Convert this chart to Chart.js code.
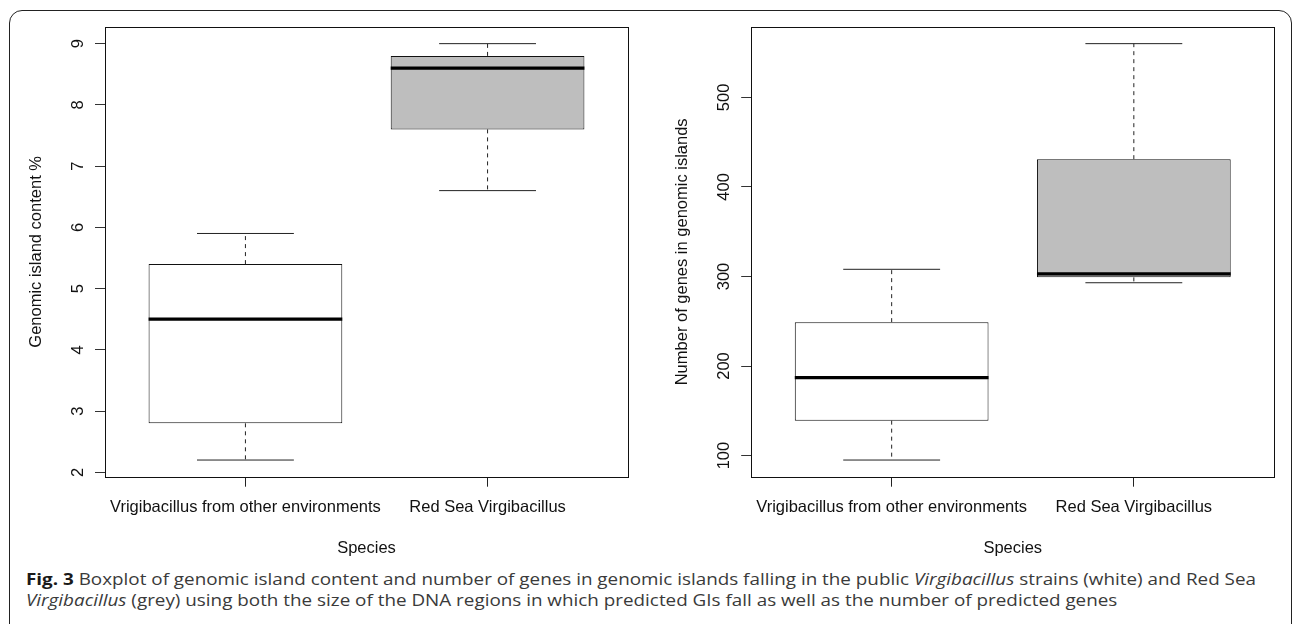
<!DOCTYPE html>
<html><head><meta charset="utf-8">
<script src="https://cdn.jsdelivr.net/npm/chart.js@4.4.1/dist/chart.umd.min.js"></script>
<style>
html,body{margin:0;padding:0;background:#fff;width:1293px;height:624px;overflow:hidden;position:relative;}
#frame{position:absolute;left:9px;top:10px;width:1283px;height:700px;border:1.5px solid #222;border-radius:13px;box-sizing:border-box;}
.cv{position:absolute;top:0;}
#c1wrap{left:0;width:646px;height:560px;}
#c2wrap{left:646px;width:647px;height:560px;}
.cap{position:absolute;left:26px;font-family:'Open Sans';font-size:16.5px;line-height:16.5px;color:#3a3a3a;white-space:nowrap;transform-origin:0 0;}
.cap b{color:#1a1a1a;}
</style></head>
<body>
<div id="frame"></div>
<div class="cv" id="c1wrap"><canvas id="c1" width="646" height="560"></canvas></div>
<div class="cv" id="c2wrap"><canvas id="c2" width="647" height="560"></canvas></div>
<div class="cap" id="cap1" style="top:570.8px"><b>Fig. 3</b> Boxplot of genomic island content and number of genes in genomic islands falling in the public <i>Virgibacillus</i> strains (white) and Red Sea</div>
<div class="cap" id="cap2" style="top:592.3px"><i>Virgibacillus</i> (grey) using both the size of the DNA regions in which predicted GIs fall as well as the number of predicted genes</div>
<script>
// ---- data ----
const categories = ['Vrigibacillus from other environments', 'Red Sea Virgibacillus'];
const boxFills = ['#ffffff', '#bebebe'];

// Genomic island content %
const giLow    = [2.2, 6.6];
const giQ1     = [2.8, 7.6];
const giMedian = [4.5, 8.6];
const giQ3     = [5.4, 8.8];
const giHigh   = [5.9, 9.0];
const giTicks  = [2, 3, 4, 5, 6, 7, 8, 9];

// Number of genes in genomic islands
const geneLow    = [95, 293];
const geneQ1     = [139, 299];
const geneMedian = [187, 303];
const geneQ3     = [249, 431];
const geneHigh   = [308, 560];
const geneTicks  = [100, 200, 300, 400, 500];

const FONT = "'Liberation Sans', Arial, Helvetica, sans-serif";
const FSIZE = 16.5;
const INK = '#111';

function segs(pairsFn) {
  const out = [];
  categories.forEach((c, i) => {
    pairsFn(i).forEach(p => out.push(p));
    out.push({x: i + 1.5, y: null});
  });
  return out;
}

const framePlugin = {
  id: 'frame',
  afterDatasetsDraw(chart) {
    const {ctx, chartArea: a} = chart;
    ctx.save();
    ctx.strokeStyle = '#111';
    ctx.lineWidth = 1;
    ctx.strokeRect(Math.round(a.left) + 0.5, Math.round(a.top) + 0.5, Math.round(a.right - a.left), Math.round(a.bottom - a.top));
    ctx.restore();
  }
};

const yLabelPlugin = {
  id: 'ylabels',
  afterDraw(chart) {
    const s = chart.scales.y;
    const ctx = chart.ctx;
    ctx.save();
    ctx.fillStyle = INK;
    ctx.font = FSIZE + 'px ' + FONT;
    ctx.textAlign = 'center';
    ctx.textBaseline = 'middle';
    s.ticks.forEach(t => {
      const y = s.getPixelForValue(t.value);
      ctx.save();
      ctx.translate(s.right - 26.5, y);
      ctx.rotate(-Math.PI / 2);
      ctx.fillText(String(t.value), 0, 0);
      ctx.restore();
    });
    ctx.restore();
  }
};

function makeBoxChart(canvasId, low, q1, med, q3, high, ticks, yTitle, yAxisWidth, padRight, titlePad) {
  const lo = Math.min(...low), hi = Math.max(...high);
  const ext = (hi - lo) * 0.04;
  const n = categories.length;
  const xExt = n * 0.04;
  const datasets = [
    {
      type: 'line', order: 0, label: 'median',
      data: segs(i => [{x: i + 1 - 0.4, y: med[i]}, {x: i + 1 + 0.4, y: med[i]}]),
      borderColor: '#000', borderWidth: 3.2, pointRadius: 0, spanGaps: false, borderCapStyle: 'butt'
    },
    {
      type: 'line', order: 1, label: 'caps',
      data: segs(i => [{x: i + 1 - 0.2, y: high[i]}, {x: i + 1 + 0.2, y: high[i]}, {x: i + 1.5, y: null},
                       {x: i + 1 - 0.2, y: low[i]}, {x: i + 1 + 0.2, y: low[i]}]),
      borderColor: '#222', borderWidth: 1, pointRadius: 0, spanGaps: false
    },
    {
      type: 'line', order: 2, label: 'whiskers',
      data: segs(i => [{x: i + 1, y: q3[i]}, {x: i + 1, y: high[i]}, {x: i + 1.5, y: null},
                       {x: i + 1, y: q1[i]}, {x: i + 1, y: low[i]}]),
      borderColor: '#222', borderWidth: 1, borderDash: [4, 4], pointRadius: 0, spanGaps: false
    },
    {
      type: 'bar', order: 5, label: 'box',
      data: categories.map((c, i) => ({x: i + 1, y: [q1[i], q3[i]]})),
      backgroundColor: boxFills, borderColor: '#111', borderWidth: 1, borderSkipped: false,
      categoryPercentage: 1, barPercentage: 0.8
    }
  ];
  return new Chart(document.getElementById(canvasId), {
    type: 'bar',
    data: {datasets},
    options: {
      responsive: false, animation: false, devicePixelRatio: 1,
      layout: {padding: {left: 0, right: padRight, top: 27, bottom: 0}},
      plugins: {legend: {display: false}, tooltip: {enabled: false}},
      scales: {
        x: {
          type: 'linear', offset: false, min: 0.5 - xExt, max: n + 0.5 + xExt,
          afterBuildTicks: s => { s.ticks = categories.map((c, i) => ({value: i + 1})); },
          afterFit: s => { s.height = 83.3; },
          grid: {display: true, offset: false, drawOnChartArea: false, drawTicks: true, tickLength: 10, color: '#222', lineWidth: 1},
          border: {display: false},
          ticks: {
            callback: v => categories[v - 1], autoSkip: false, maxRotation: 0, minRotation: 0,
            padding: 10.7, color: INK, font: {family: FONT, size: FSIZE}
          },
          title: {display: true, text: 'Species', color: INK, font: {family: FONT, size: FSIZE}, padding: {top: 0, bottom: 2}}
        },
        y: {
          type: 'linear', min: lo - ext, max: hi + ext,
          afterBuildTicks: s => { s.ticks = ticks.map(v => ({value: v})); },
          afterFit: s => { s.width = yAxisWidth; },
          grid: {display: true, drawOnChartArea: false, drawTicks: true, tickLength: 10, color: '#333', lineWidth: 1},
          border: {display: false},
          ticks: {display: false},
          title: {display: true, text: yTitle, color: INK, font: {family: FONT, size: FSIZE}, padding: {top: titlePad, bottom: 0}}
        }
      }
    },
    plugins: [framePlugin, yLabelPlugin]
  });
}

makeBoxChart('c1', giLow, giQ1, giMedian, giQ3, giHigh, giTicks, 'Genomic island content %', 105, 18, 26.7);
makeBoxChart('c2', geneLow, geneQ1, geneMedian, geneQ3, geneHigh, geneTicks, 'Number of genes in genomic islands', 105.2, 18.7, 26.7);

// fit caption lines to the reference width
(function fitCaption() {
  const c1 = document.getElementById('cap1');
  const w = c1.getBoundingClientRect().width;
  const target = 1256 - 26;
  const k = target / w;
  ['cap1', 'cap2'].forEach(id => { document.getElementById(id).style.transform = 'scaleX(' + k + ')'; });
})();
</script>
</body></html>
